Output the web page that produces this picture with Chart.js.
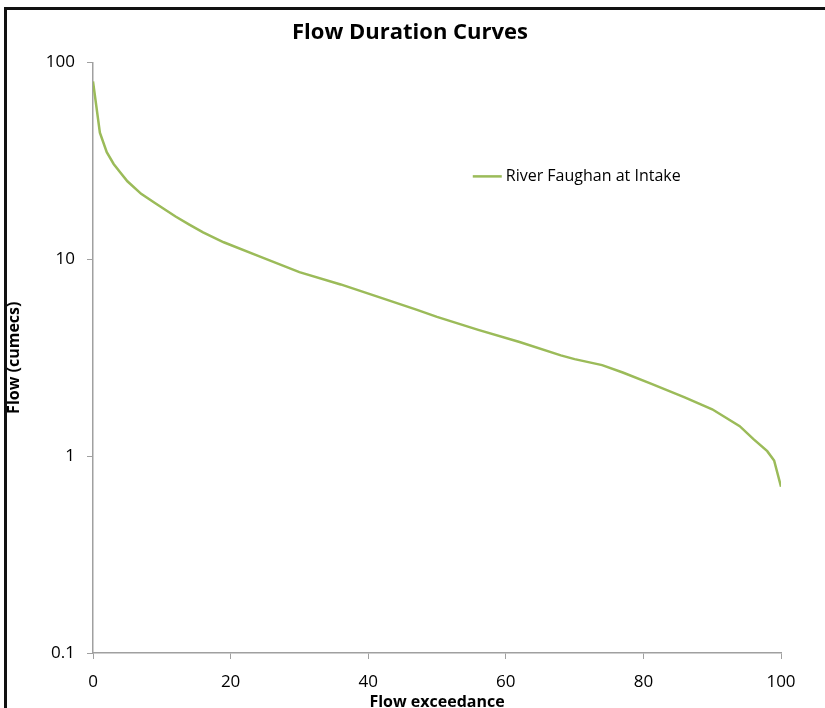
<!DOCTYPE html>
<html>
<head>
<meta charset="utf-8">
<script src="https://cdn.jsdelivr.net/npm/chart.js@4"></script>
<style>
  html, body { margin: 0; padding: 0; background: #fff; overflow: hidden; }
  #wrap { position: relative; width: 825px; height: 708px; overflow: hidden; }
  #frame { position: absolute; left: 4px; top: 7px; width: 1000px; height: 1000px;
           border: 3px solid #111; box-sizing: border-box; pointer-events: none; }
  #chart { position: absolute; left: 0; top: 0; }
</style>
</head>
<body>
<div id="wrap">
  <canvas id="chart" width="825" height="720"></canvas>
  <div id="frame"></div>
</div>
<script>
// exceedance (%) and flow (cumecs)
const exceedance = [0, 1, 2, 3, 4, 5, 7, 9, 12, 14, 16, 19, 24, 30, 36, 42, 47, 50,
                    56, 62, 68, 70, 74, 77, 81, 86, 90, 94, 96, 98, 99, 100];
const flow = [80, 44, 35, 30.5, 27.5, 24.9, 21.5, 19.3, 16.5, 15, 13.7, 12.2, 10.4, 8.6, 7.45, 6.35, 5.55, 5.1,
              4.38, 3.8, 3.25, 3.11, 2.9, 2.66, 2.34, 1.99, 1.73, 1.42, 1.22, 1.06, 0.95, 0.70];
const yTicks = [0.1, 1, 10, 100];
const seriesName = 'River Faughan at Intake';
const lineColor = '#9bbb59';
const axisColor = '#a0a0a0';
const fontFamily = '"Open Sans", Lato, sans-serif';

const points = exceedance.map((x, i) => ({ x: x, y: flow[i] }));

// legend sits inside the plot, like the original
const innerLegend = {
  id: 'innerLegend',
  afterDraw(chart) {
    const ctx = chart.ctx;
    const a = chart.chartArea;
    const ds = chart.data.datasets[0];
    const lx = a.left + 0.552 * (a.right - a.left);
    const ly = a.top + 0.193 * (a.bottom - a.top);
    ctx.save();
    ctx.strokeStyle = ds.borderColor;
    ctx.lineWidth = 2.5;
    ctx.beginPath();
    ctx.moveTo(lx, ly);
    ctx.lineTo(lx + 29, ly);
    ctx.stroke();
    ctx.fillStyle = '#000';
    ctx.font = '16px ' + fontFamily;
    ctx.textBaseline = 'middle';
    ctx.fillText(ds.label, lx + 33, ly);
    ctx.restore();
  }
};

new Chart(document.getElementById('chart'), {
  type: 'line',
  data: {
    datasets: [{
      label: seriesName,
      data: points,
      borderColor: lineColor,
      borderWidth: 2.5,
      pointRadius: 0,
      tension: 0,
      fill: false
    }]
  },
  options: {
    responsive: false,
    animation: false,
    devicePixelRatio: 1,
    layout: { padding: { left: 5, right: 10, top: 0, bottom: 0 } },
    plugins: {
      legend: { display: false },
      tooltip: { enabled: false },
      title: {
        display: true,
        text: 'Flow Duration Curves',
        color: '#000',
        font: { family: fontFamily, size: 22, weight: 'bold' },
        padding: { top: 20, bottom: 16 }
      }
    },
    scales: {
      x: {
        type: 'linear',
        min: 0,
        max: 100,
        ticks: { stepSize: 20, color: '#000', padding: 13,
                 font: { family: fontFamily, size: 17 } },
        grid: { drawOnChartArea: false, drawTicks: true, tickLength: 6, color: axisColor },
        border: { color: axisColor, width: 1.5 },
        title: { display: true, text: 'Flow exceedance', color: '#000', padding: { top: 0, bottom: 8 },
                 font: { family: fontFamily, size: 16, weight: 'bold' } },
        afterFit(scale) { scale.height = 67; }
      },
      y: {
        type: 'logarithmic',
        min: 0.1,
        max: 100,
        afterBuildTicks(scale) { scale.ticks = yTicks.map(v => ({ value: v })); },
        ticks: { color: '#000', padding: 12,
                 font: { family: fontFamily, size: 17 },
                 callback: v => String(v) },
        grid: { drawOnChartArea: false, drawTicks: true, tickLength: 6, color: axisColor },
        border: { color: axisColor, width: 1.5 },
        title: { display: true, text: 'Flow (cumecs)', color: '#000', padding: { top: 0, bottom: 0 },
                 font: { family: fontFamily, size: 16, weight: 'bold' } },
        afterFit(scale) { scale.width = 88; }
      },
      // empty right-hand gutter so the title centres on the whole frame
      gutter: {
        position: 'right',
        type: 'linear',
        display: true,
        ticks: { display: false },
        grid: { display: false },
        border: { display: false },
        afterFit(scale) { scale.width = 34; }
      }
    }
  },
  plugins: [innerLegend]
});
</script>
</body>
</html>
